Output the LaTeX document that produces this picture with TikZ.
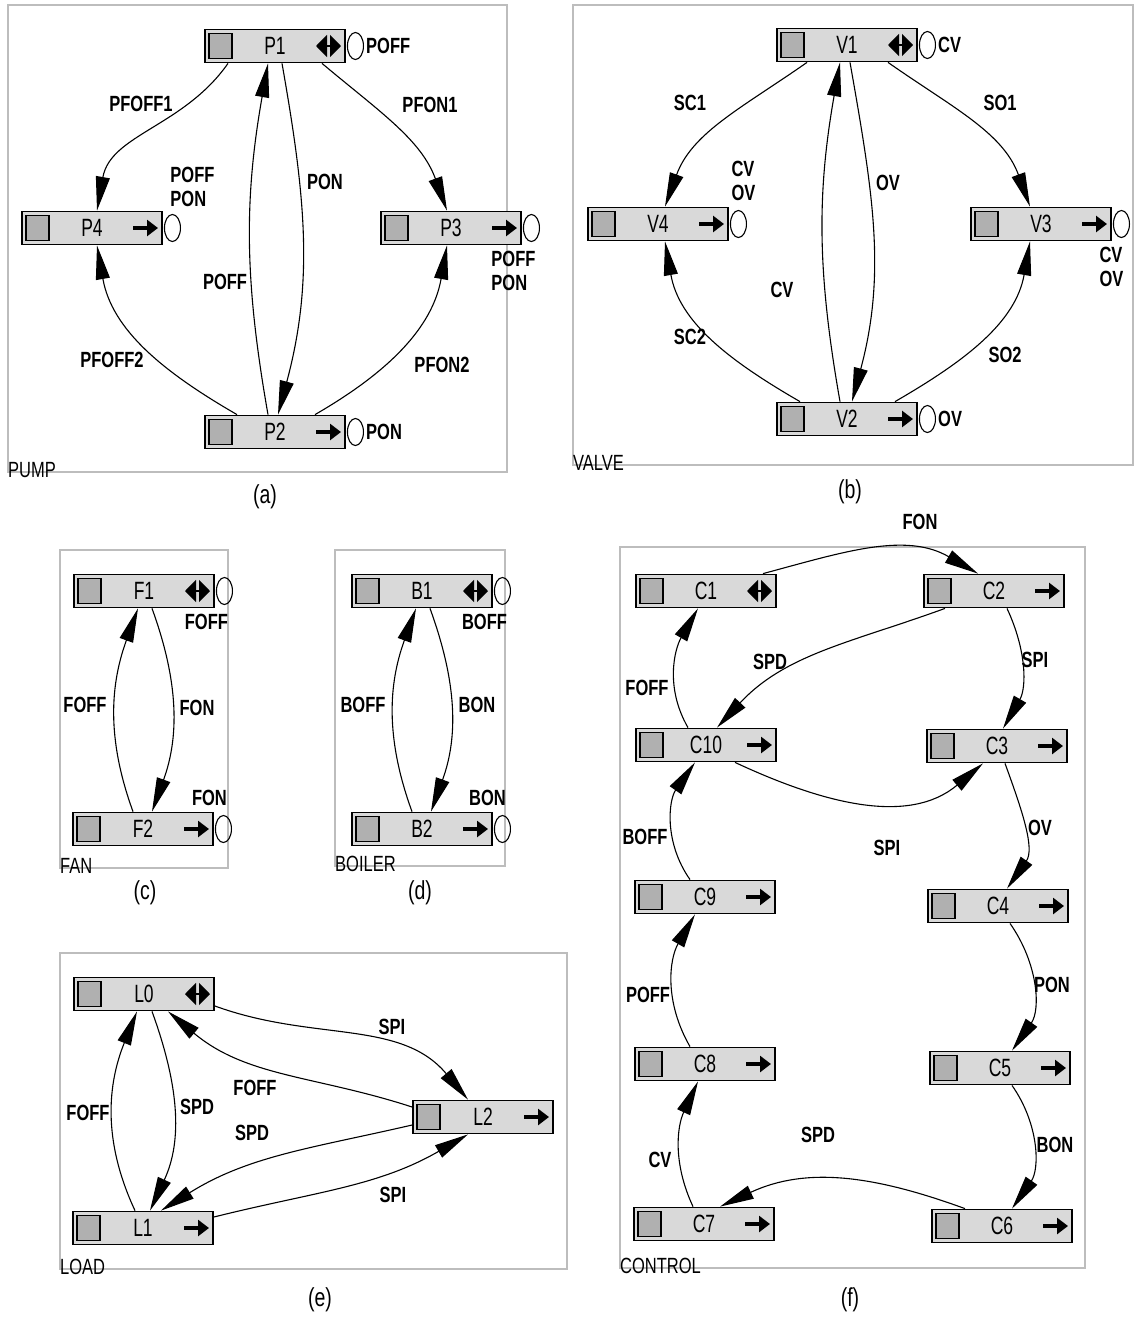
\documentclass[tikz,border=0pt]{standalone}
\usepackage{fontspec}
\setmainfont{Liberation Sans}
\newfontfamily\boxfont{Liberation Sans}[FakeStretch=0.7]
\newfontfamily\lblfont{Liberation Sans}[FakeStretch=0.75]
\usetikzlibrary{arrows.meta,positioning,shapes.geometric}
\definecolor{boxgray}{HTML}{D9D9D9}
\definecolor{sqgray}{HTML}{B0B0B0}
\definecolor{framegray}{HTML}{BDBDBD}

\begin{document}
\begin{tikzpicture}[x=1pt, y=1pt,
    stbase/.style={draw, line width=1.8pt, fill=boxgray, minimum width=140pt,
                   minimum height=33pt, inner sep=0pt, font=\boxfont\fontsize{25}{25}\selectfont},
    st/.style={stbase, path picture={
        \draw[line width=1.3pt, fill=sqgray] ([shift={(4pt,-4pt)}]path picture bounding box.north west)
            rectangle ([shift={(27pt,4pt)}]path picture bounding box.south west);
        \draw[line width=3.5pt, -{Triangle[length=11pt,width=16pt]}] ([xshift=-29pt]path picture bounding box.east)
            -- ([xshift=-4pt]path picture bounding box.east);}},
    ist/.style={stbase, path picture={
        \draw[line width=1.3pt, fill=sqgray] ([shift={(4pt,-4pt)}]path picture bounding box.north west)
            rectangle ([shift={(27pt,4pt)}]path picture bounding box.south west);
        \draw[line width=2pt, {Triangle[length=11pt,width=22pt]}-{Triangle[length=11pt,width=22pt]}]
            ([xshift=-29pt]path picture bounding box.east) -- ([xshift=-4pt]path picture bounding box.east);}},
    ring/.style={draw, ellipse, line width=1.1pt, minimum width=16pt, minimum height=27pt, inner sep=0pt},
    lbl/.style={font=\lblfont\bfseries\fontsize{22}{24}\selectfont, inner sep=1pt, align=left},
    tr/.style={line width=1.1pt, -{Triangle[length=34pt,width=14pt]}},
    frm/.style={draw=framegray, line width=1.5pt},
    ftag/.style={font=\lblfont\fontsize{22}{22}\selectfont, anchor=base west, inner sep=0pt},
    figcap/.style={font=\lblfont\fontsize{26}{26}\selectfont}
  ]
    \useasboundingbox (0,0) rectangle (1136,-1317);

    % Frames
    \draw[frm] (8,-5) rectangle (507,-472);
    \draw[frm] (573,-5) rectangle (1133,-465);
    \draw[frm] (60,-550) rectangle (228,-868);
    \draw[frm] (335,-550) rectangle (505,-866);
    \draw[frm] (60,-953) rectangle (567,-1269);
    \draw[frm] (620,-547) rectangle (1085,-1268);
    \node[ftag] (tpump) at (8,-477) {PUMP};
    \node[ftag] (tvalve) at (573,-470) {VALVE};
    \node[ftag] (tfan) at (60,-873) {FAN};
    \node[ftag] (tboiler) at (335,-871) {BOILER};
    \node[ftag] (tload) at (60,-1274) {LOAD};
    \node[ftag] (tcontrol) at (620,-1273) {CONTROL};
    \node[figcap] (capa) at (265,-497) {(a)};
    \node[figcap] (capb) at (850,-492) {(b)};
    \node[figcap] (capc) at (145,-893) {(c)};
    \node[figcap] (capd) at (420,-893) {(d)};
    \node[figcap] (cape) at (320,-1300) {(e)};
    \node[figcap] (capf) at (850,-1300) {(f)};

    % Pump
    \node[ist] (P1) at (275,-46) {P1};
    \node[st] (P4) at (92,-228) {P4};
    \node[st] (P3) at (451,-228) {P3};
    \node[st] (P2) at (275,-432) {P2};
    \node[ring, right=1pt of P1] (P1o) {};
    \node[ring, right=1pt of P4] (P4o) {};
    \node[ring, right=1pt of P3] (P3o) {};
    \node[ring, right=1pt of P2] (P2o) {};
    \node[lbl, right=1pt of P1o] {POFF};
    \node[lbl, above=6pt of P4o, xshift=20pt] {POFF\\PON};
    \node[lbl, below=8pt of P3o, xshift=-18pt] {POFF\\PON};
    \node[lbl, right=1pt of P2o] {PON};
    \node[lbl] (lpfoff1) at (141,-104) {PFOFF1};
    \node[lbl] (lpfon1) at (430,-105) {PFON1};
    \node[lbl] (lpon) at (325,-182) {PON};
    \node[lbl] (lpoff) at (225,-282) {POFF};
    \node[lbl] (lpfoff2) at (112,-360) {PFOFF2};
    \node[lbl] (lpfon2) at (442,-365) {PFON2};
    \draw[tr] ([xshift=-47pt]P1.south) to[out=-125, in=80] ([xshift=5pt]P4.north);
    \draw[tr] ([xshift=47pt]P1.south) to[out=-40, in=110] ([xshift=-4pt]P3.north);
    \draw[tr] ([xshift=-38pt]P2.north) to[out=150, in=-80] ([xshift=5pt]P4.south);
    \draw[tr] ([xshift=40pt]P2.north) to[out=30, in=-100] ([xshift=-4pt]P3.south);
    \draw[tr] ([xshift=7pt]P1.south) to[out=-80, in=75] ([xshift=3pt]P2.north);
    \draw[tr] ([xshift=-7pt]P2.north) to[out=100, in=-100] ([xshift=-7pt]P1.south);

    % Valve
    \node[ist] (V1) at (847,-45) {V1};
    \node[st] (V4) at (658,-224) {V4};
    \node[st] (V3) at (1041,-224) {V3};
    \node[st] (V2) at (847,-419) {V2};
    \node[ring, right=1pt of V1] (V1o) {};
    \node[ring, right=1pt of V4] (V4o) {};
    \node[ring, right=1pt of V3] (V3o) {};
    \node[ring, right=1pt of V2] (V2o) {};
    \node[lbl, right=1pt of V1o] {CV};
    \node[lbl, above=8pt of V4o, xshift=5pt] {CV\\OV};
    \node[lbl, below=8pt of V3o, xshift=-10pt] {CV\\OV};
    \node[lbl, right=1pt of V2o] {OV};
    \node[lbl] (lsc1) at (690,-103) {SC1};
    \node[lbl] (lso1) at (1000,-103) {SO1};
    \node[lbl] (lov) at (888,-183) {OV};
    \node[lbl] (lcv) at (782,-290) {CV};
    \node[lbl] (lsc2) at (690,-337) {SC2};
    \node[lbl] (lso2) at (1005,-355) {SO2};
    \draw[tr] ([xshift=-40pt]V1.south) to[out=-145, in=70] ([xshift=7pt]V4.north);
    \draw[tr] ([xshift=41pt]V1.south) to[out=-35, in=110] ([xshift=-11pt]V3.north);
    \draw[tr] ([xshift=-47pt]V2.north) to[out=150, in=-80] ([xshift=7pt]V4.south);
    \draw[tr] ([xshift=48pt]V2.north) to[out=30, in=-100] ([xshift=-11pt]V3.south);
    \draw[tr] ([xshift=3pt]V1.south) to[out=-80, in=75] ([xshift=5pt]V2.north);
    \draw[tr] ([xshift=-7pt]V2.north) to[out=100, in=-100] ([xshift=-7pt]V1.south);

    % Fan
    \node[ist] (F1) at (144,-591) {F1};
    \node[st] (F2) at (143,-829) {F2};
    \node[ring, right=1pt of F1] (F1o) {};
    \node[ring, right=1pt of F2] (F2o) {};
    \node[lbl, below=8pt of F1o, xshift=-18pt] {FOFF};
    \node[lbl, above=8pt of F2o, xshift=-14pt] {FON};
    \node[lbl] (lfoff) at (85,-705) {FOFF};
    \node[lbl] (lfon) at (197,-708) {FON};
    \draw[tr] ([xshift=-10pt]F2.north) to[out=110, in=-110] ([xshift=-6pt]F1.south);
    \draw[tr] ([xshift=8pt]F1.south) to[out=-70, in=70] ([xshift=9pt]F2.north);

    % Boiler
    \node[ist] (B1) at (422,-591) {B1};
    \node[st] (B2) at (422,-829) {B2};
    \node[ring, right=1pt of B1] (B1o) {};
    \node[ring, right=1pt of B2] (B2o) {};
    \node[lbl, below=8pt of B1o, xshift=-18pt] {BOFF};
    \node[lbl, above=8pt of B2o, xshift=-15pt] {BON};
    \node[lbl] (lboff) at (363,-705) {BOFF};
    \node[lbl] (lbon) at (477,-705) {BON};
    \draw[tr] ([xshift=-10pt]B2.north) to[out=110, in=-110] ([xshift=-6pt]B1.south);
    \draw[tr] ([xshift=8pt]B1.south) to[out=-70, in=70] ([xshift=9pt]B2.north);

    % Load
    \node[ist] (L0) at (144,-994) {L0};
    \node[st] (L2) at (483,-1117) {L2};
    \node[st] (L1) at (143,-1228) {L1};
    \node[lbl] (lspi1) at (392,-1027) {SPI};
    \node[lbl] (lfoff2) at (255,-1088) {FOFF};
    \node[lbl] (lspd1) at (197,-1107) {SPD};
    \node[lbl] (lspd2) at (252,-1133) {SPD};
    \node[lbl] (lfoff1) at (88,-1113) {FOFF};
    \node[lbl] (lspi2) at (393,-1195) {SPI};
    \draw[tr] ([yshift=-12pt]L0.east) to[out=-20, in=130] ([xshift=-15pt]L2.north);
    \draw[tr] ([yshift=10pt]L2.west) to[out=162, in=-40] ([xshift=24pt]L0.south);
    \draw[tr] ([yshift=-8pt]L2.west) to[out=193, in=32] ([xshift=18pt]L1.north);
    \draw[tr] ([yshift=11pt]L1.east) to[out=14, in=-150] ([xshift=-15pt]L2.south);
    \draw[tr] ([xshift=8pt]L0.south) to[out=-70, in=65] ([xshift=7pt]L1.north);
    \draw[tr] ([xshift=-8pt]L1.north) to[out=115, in=-112] ([xshift=-7pt]L0.south);

    % Control
    \node[ist] (C1) at (706,-591) {C1};
    \node[st] (C2) at (994,-591) {C2};
    \node[st] (C10) at (706,-745) {C10};
    \node[st] (C3) at (997,-746) {C3};
    \node[st] (C9) at (705,-897) {C9};
    \node[st] (C4) at (998,-906) {C4};
    \node[st] (C8) at (705,-1064) {C8};
    \node[st] (C5) at (1000,-1068) {C5};
    \node[st] (C7) at (704,-1224) {C7};
    \node[st] (C6) at (1002,-1226) {C6};
    \node[lbl] (lcfon) at (920,-522) {FON};
    \node[lbl] (lcspd1) at (770,-662) {SPD};
    \node[lbl] (lcspi1) at (1035,-660) {SPI};
    \node[lbl] (lcfoff) at (647,-688) {FOFF};
    \node[lbl] (lcboff) at (645,-837) {BOFF};
    \node[lbl] (lcspi2) at (887,-848) {SPI};
    \node[lbl] (lcov) at (1040,-828) {OV};
    \node[lbl] (lcpoff) at (648,-995) {POFF};
    \node[lbl] (lcpon) at (1052,-985) {PON};
    \node[lbl] (lcspd2) at (818,-1135) {SPD};
    \node[lbl] (lccv) at (660,-1160) {CV};
    \node[lbl] (lcbon) at (1055,-1145) {BON};
    \draw[tr] ([xshift=57pt]C1.north) to[out=15, in=150] ([xshift=-16pt]C2.north);
    \draw[tr] ([xshift=-49pt]C2.south) to[out=200, in=47] ([xshift=11pt]C10.north);
    \draw[tr] ([xshift=13pt]C2.south) to[out=-65, in=60] ([xshift=6pt]C3.north);
    \draw[tr] ([xshift=-18pt]C10.north) to[out=120, in=-120] ([xshift=-8pt]C1.south);
    \draw[tr] ([xshift=29pt]C10.south) to[out=-25, in=-140] ([xshift=-14pt]C3.south);
    \draw[tr] ([xshift=8pt]C3.south) to[out=-70, in=55] ([xshift=9pt]C4.north);
    \draw[tr] ([xshift=-15pt]C9.north) to[out=125, in=-125] ([xshift=-11pt]C10.south);
    \draw[tr] ([xshift=12pt]C4.south) to[out=-55, in=55] ([xshift=12pt]C5.north);
    \draw[tr] ([xshift=-15pt]C8.north) to[out=120, in=-120] ([xshift=-10pt]C9.south);
    \draw[tr] ([xshift=12pt]C5.south) to[out=-55, in=55] ([xshift=10pt]C6.north);
    \draw[tr] ([xshift=-11pt]C7.north) to[out=115, in=-115] ([xshift=-7pt]C8.south);
    \draw[tr] ([xshift=-37pt]C6.north) to[out=160, in=25] ([xshift=16pt]C7.north);
\end{tikzpicture}
\end{document}
